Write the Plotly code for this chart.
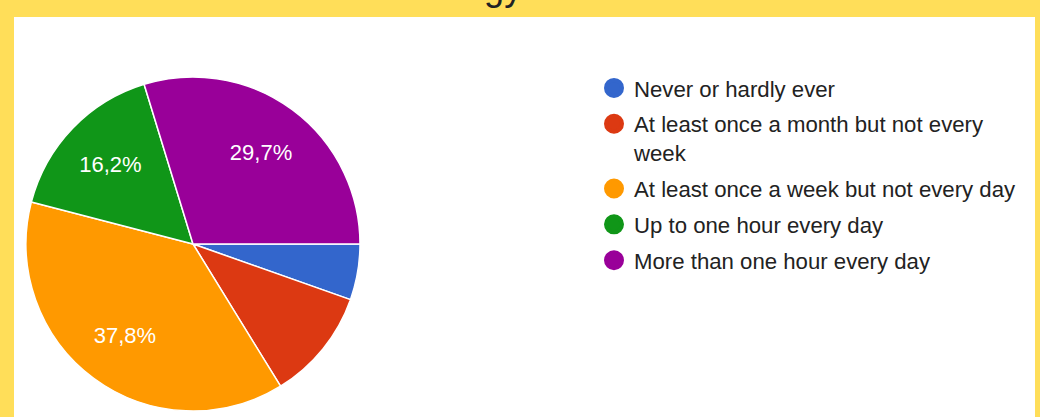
import plotly.graph_objects as go

categories = [
    "Never or hardly ever",
    "At least once a month but not every<br>week",
    "At least once a week but not every day",
    "Up to one hour every day",
    "More than one hour every day",
]
values = [2, 4, 14, 6, 11]
colors = ["#3366CC", "#DC3912", "#FF9900", "#109618", "#990099"]
title_text = "technology is used?"

total = sum(values)
pct_labels = []
for v in values:
    p = v / total * 100
    pct_labels.append(("%.1f%%" % p).replace(".", ",") if p >= 12 else "")

W, H = 1040, 417
FONT = "Liberation Sans, Arial, sans-serif"

fig = go.Figure()

# pie centred at (193, 244) px, radius 167 px
cx, cy, r = 193, 244, 167
dom = dict(x=[(cx - r) / W, (cx + r) / W], y=[(H - cy - r) / H, (H - cy + r) / H])

fig.add_trace(go.Pie(
    labels=categories,
    values=values,
    textinfo="none",
    marker=dict(colors=colors, line=dict(color="white", width=1.5)),
    sort=False,
    direction="clockwise",
    rotation=90,
    showlegend=False,
    domain=dom,
))

# label layer: same slices, transparent, ring so labels sit at ~0.68 of radius
fig.add_trace(go.Pie(
    labels=categories,
    values=values,
    text=pct_labels,
    textinfo="text",
    textposition="inside",
    insidetextorientation="horizontal",
    textfont=dict(family=FONT, size=22, color="white"),
    marker=dict(colors=["rgba(0,0,0,0)"] * len(values), line=dict(width=0)),
    hole=0.37,
    sort=False,
    direction="clockwise",
    rotation=90,
    showlegend=False,
    hoverinfo="skip",
    domain=dom,
))

# legend entries (circle symbols)
for i, (name, col) in enumerate(zip(categories, colors)):
    fig.add_trace(go.Scatter(
        x=[None], y=[None], mode="markers", name=name,
        marker=dict(symbol="circle", size=16, color=col, line=dict(color=col, width=4)),
        legendgroup="g%d" % i, hoverinfo="skip",
    ))

fig.add_shape(type="rect", xref="paper", yref="paper",
              x0=14 / W, x1=1035 / W, y0=0, y1=(H - 17) / H,
              fillcolor="white", line=dict(width=0), layer="below")

fig.add_annotation(text=title_text, xref="paper", yref="paper",
                   x=507 / W, y=1 - 10.5 / H, xanchor="center", yanchor="bottom",
                   showarrow=False, font=dict(family=FONT, size=36, color="#202124"))

fig.update_layout(
    width=W, height=H,
    margin=dict(l=0, r=0, t=0, b=0),
    paper_bgcolor="#FFDE59",
    plot_bgcolor="rgba(0,0,0,0)",
    xaxis=dict(visible=False),
    yaxis=dict(visible=False),
    showlegend=True,
    legend=dict(
        x=594 / W, xanchor="left", y=1 - 67 / H, yanchor="top",
        font=dict(family=FONT, size=22.2, color="#222222"),
        traceorder="grouped", tracegroupgap=4, valign="top",
        bgcolor="rgba(0,0,0,0)",
    ),
    font=dict(family=FONT),
)

fig.write_html("out.html", config={"displayModeBar": False},
               post_script="document.body.style.margin='0';document.body.style.overflow='hidden';")
